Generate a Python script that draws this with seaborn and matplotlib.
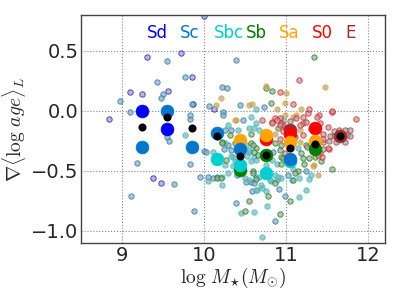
import matplotlib
matplotlib.use("Agg")
import matplotlib.pyplot as plt
import seaborn as sns
import pandas as pd

types = ["Sd", "Sc", "Sbc", "Sb", "Sa", "S0", "E"]
colors = ["#0000ff", "#0077cc", "#00cfcf", "#008000", "#ffa500", "#ff0000", "#a52a2a"]
label_x = [9.43, 9.82, 10.30, 10.63, 11.03, 11.44, 11.78]
label_y = 0.65

# individual galaxies (small markers)
sd_x = [9.30, 9.71, 9.10, 9.24, 9.56, 8.84, 10.00, 10.12, 9.86, 9.85, 9.37, 9.47]
sd_y = [0.45, 0.48, 0.16, 0.14, 0.17, -0.07, 0.79, 0.02, 0.055, 0.28, -0.56, -0.60]

sc_x = [9.54, 9.76, 9.42, 9.50, 9.47, 8.97, 9.10, 9.85, 9.83, 10.39, 10.21, 10.28, 10.06,
        10.23, 10.44, 10.73, 9.54, 9.57, 9.18, 9.83, 9.63, 9.11, 9.88, 10.00, 9.82, 10.02,
        10.23, 10.25, 10.33, 10.29, 10.33, 10.15, 10.04, 9.95, 10.11, 10.40, 10.51, 10.57,
        10.58, 10.91, 10.98, 10.39, 10.86, 10.47, 10.84, 10.61, 11.02, 11.24, 10.24]
sc_y = [0.42, 0.28, 0.24, 0.14, 0.11, 0.08, -0.01, 0.06, -0.07, 0.425, 0.20, 0.19, 0.045,
        -0.01, 0.05, 0.03, -0.22, -0.25, -0.43, -0.44, -0.61, -0.71, -0.83, -0.33, -0.03, -0.34,
        -0.03, -0.16, -0.16, -0.28, -0.325, -0.55, -0.55, -0.55, -0.56, -0.53, -0.59, -0.59,
        -0.67, -0.65, -0.71, -0.77, -0.92, -0.075, -0.34, -0.60, -0.53, -0.50, -0.32]

sbc_x = [9.77, 10.41, 10.37, 10.29, 10.25, 10.35, 10.25, 10.29, 10.21, 10.57, 10.63, 10.55,
         10.61, 10.63, 10.86, 10.75, 10.05, 10.21, 10.50, 10.64, 10.70, 10.75, 10.81, 10.88,
         10.94, 11.15, 11.24, 11.07, 11.15, 11.28, 10.45, 10.60, 10.76, 10.70, 10.63, 10.67,
         10.61, 10.55, 10.51, 10.55, 10.63, 10.57, 10.55, 10.67, 10.69, 10.80, 10.90, 10.88,
         10.82, 10.96, 11.14, 11.08, 11.30, 10.52, 10.33, 10.35, 10.10, 10.63]
sbc_y = [-0.20, -0.16, -0.42, -0.12, -0.27, -0.38, -0.45, -0.52, -0.55, -0.05, -0.10, -0.34,
         -0.38, -0.55, -0.53, -0.45, -0.58, -0.62, -0.56, -0.66, -0.64, -0.67, -0.58, -0.575,
         -0.56, -0.72, -0.66, -0.575, -0.56, -0.57, -0.85, -0.84, -0.79, -1.05, 0.02, -0.16,
         -0.14, -0.145, -0.28, -0.325, -0.41, -0.42, -0.575, -0.55, -0.62, -0.575, -0.55, -0.44,
         -0.41, -0.075, -0.31, -0.48, -0.53, -0.375, -0.375, -0.46, -0.34, -0.66]

sb_x = [10.81, 10.75, 10.83, 11.34, 10.31, 10.21, 10.37, 10.27, 10.63, 10.57, 10.92, 10.94,
        10.59, 10.15, 10.20, 10.63, 10.78, 11.04, 10.54, 10.50, 10.92, 10.90, 10.86, 10.94,
        10.96, 10.94, 10.57, 10.59, 10.61, 10.59, 10.86, 11.08, 11.24, 11.35, 11.42, 11.28,
        11.20, 11.18, 11.22, 11.55, 11.14, 11.10, 10.65, 10.22]
sb_y = [0.07, 0.19, 0.17, 0.45, -0.20, -0.26, -0.27, -0.41, -0.31, -0.27, -0.325, -0.38,
        -0.50, -0.56, -0.56, -0.57, -0.71, -0.75, -0.75, -0.83, -0.86, -0.14, -0.27, -0.28,
        -0.39, -0.44, -0.19, -0.28, -0.34, -0.52, -0.60, -0.575, -0.28, -0.38, -0.42, -0.39,
        -0.39, -0.35, -0.44, -0.48, -0.50, -0.52, -0.37, -0.27]

sa_x = [10.20, 10.14, 10.58, 10.75, 10.99, 11.47, 10.37, 10.55, 10.89, 10.98, 11.08, 10.86,
        10.39, 11.18, 11.16, 11.16, 11.32, 11.38, 11.34, 10.98, 11.12]
sa_y = [0.11, 0.05, 0.06, 0.21, 0.15, 0.20, -0.075, 0.05, 0.02, 0.07, -0.05, -0.19,
        -0.075, 0.02, -0.16, -0.26, -0.46, -0.53, -0.45, -0.03, -0.03]

s0_x = [10.92, 11.15, 11.08, 11.55, 11.26, 11.40, 11.45, 11.52, 11.45, 11.51, 11.41, 11.37,
        11.20, 11.20, 11.41, 10.96, 11.12, 11.20, 11.24, 11.16, 10.86, 10.92, 10.82, 10.94,
        10.96, 10.92, 10.98, 11.43, 11.51, 11.45, 11.55, 11.28, 10.70, 10.82, 10.88, 10.92,
        11.39, 11.85]
s0_y = [0.155, 0.26, 0.06, -0.01, -0.02, -0.03, -0.26, -0.32, -0.19, -0.13, -0.10, -0.05,
        -0.10, -0.20, -0.35, -0.12, -0.06, -0.05, -0.09, -0.12, -0.06, -0.06, -0.09, -0.10,
        -0.17, -0.23, -0.35, -0.38, -0.31, -0.23, 0.00, 0.02, -0.075, -0.10, -0.075, -0.12,
        -0.37, -0.07]

e_x = [11.58, 11.64, 11.71, 11.78, 11.74, 11.78, 11.58, 11.61, 11.72, 11.52, 11.45, 11.53,
       11.00, 11.10, 11.05, 11.30, 11.25]
e_y = [-0.17, -0.16, -0.16, -0.16, -0.20, -0.21, -0.21, -0.26, -0.26, -0.25, -0.32, -0.21,
       -0.14, -0.22, -0.08, -0.15, -0.30]

# binned means per type (large markers)
sd_mx = [9.24, 9.54]
sd_my = [0.00, -0.15]
sc_mx = [9.24, 9.54, 9.85, 10.15, 10.44, 11.05]
sc_my = [-0.30, 0.00, -0.30, -0.18, -0.32, -0.40]
sbc_mx = [10.15, 10.44, 10.75, 11.05]
sbc_my = [-0.40, -0.45, -0.52, -0.42]
sb_mx = [10.44, 10.75, 11.35]
sb_my = [-0.49, -0.37, -0.32]
sa_mx = [10.44, 10.75, 11.05, 11.35]
sa_my = [-0.24, -0.20, -0.26, -0.25]
s0_mx = [10.75, 11.05, 11.35]
s0_my = [-0.23, -0.19, -0.145]
e_mx = [11.05, 11.65]
e_my = [-0.16, -0.21]

# binned means of all galaxies (black)
all_mx = [9.24, 9.54, 9.85, 10.15, 10.44, 10.75, 11.05, 11.35, 11.65]
all_my = [-0.13, -0.05, -0.14, -0.21, -0.375, -0.37, -0.31, -0.275, -0.21]

small = {"Sd": (sd_x, sd_y), "Sc": (sc_x, sc_y), "Sbc": (sbc_x, sbc_y), "Sb": (sb_x, sb_y),
         "Sa": (sa_x, sa_y), "S0": (s0_x, s0_y), "E": (e_x, e_y)}
means = {"Sd": (sd_mx, sd_my), "Sc": (sc_mx, sc_my), "Sbc": (sbc_mx, sbc_my), "Sb": (sb_mx, sb_my),
         "Sa": (sa_mx, sa_my), "S0": (s0_mx, s0_my), "E": (e_mx, e_my)}

sns.set_style("white")
plt.rcParams["mathtext.fontset"] = "cm"
plt.rcParams["font.family"] = ["DejaVu Sans"]

fig = plt.figure(figsize=(4.06, 3.04), dpi=100)
ax = fig.add_axes([0.2, 0.2007, 0.748, 0.7503])

for t, c in zip(types, colors):
    xs, ys = small[t]
    df = pd.DataFrame({"x": xs, "y": ys})
    sns.scatterplot(data=df, x="x", y="y", ax=ax, color="#a0a4a6", edgecolor=c,
                    linewidth=0.7, s=15, alpha=0.7, zorder=2, legend=False)

for t, c in reversed(list(zip(types, colors))):
    xs, ys = means[t]
    df = pd.DataFrame({"x": xs, "y": ys})
    sns.scatterplot(data=df, x="x", y="y", ax=ax, color=c, edgecolor=c,
                    linewidth=0.5, s=85, zorder=3, legend=False)

dfa = pd.DataFrame({"x": all_mx, "y": all_my})
sns.scatterplot(data=dfa, x="x", y="y", ax=ax, color="black", edgecolor="black",
                linewidth=0, s=34, zorder=4, legend=False)

for t, c, lx in zip(types, colors, label_x):
    ax.text(lx, label_y, t, color=c, fontsize=12, ha="center", va="center", zorder=5)

ax.set_xlim(8.5, 12.2)
ax.set_ylim(-1.1, 0.8)
ax.set_xticks([9, 10, 11, 12])
ax.set_yticks([-1.0, -0.5, 0.0, 0.5])
ax.set_xticklabels(["9", "10", "11", "12"])
ax.set_yticklabels(["\u22121.0", "\u22120.5", "0.0", "0.5"])
ax.tick_params(labelsize=14, direction="in", length=4, color="#444444", pad=2)
ax.grid(True, linestyle=":", color="#888888", linewidth=0.8)
ax.set_axisbelow(True)
for sp in ax.spines.values():
    sp.set_color("#444444")
    sp.set_linewidth(1.0)
ax.set_xlabel(r"$\log\,M_{\star}(M_{\odot})$", fontsize=14, labelpad=1)
ax.set_ylabel(r"$\nabla\langle\log\,age\rangle_L$", fontsize=14, labelpad=2)

fig.savefig("out.png", dpi=100)
